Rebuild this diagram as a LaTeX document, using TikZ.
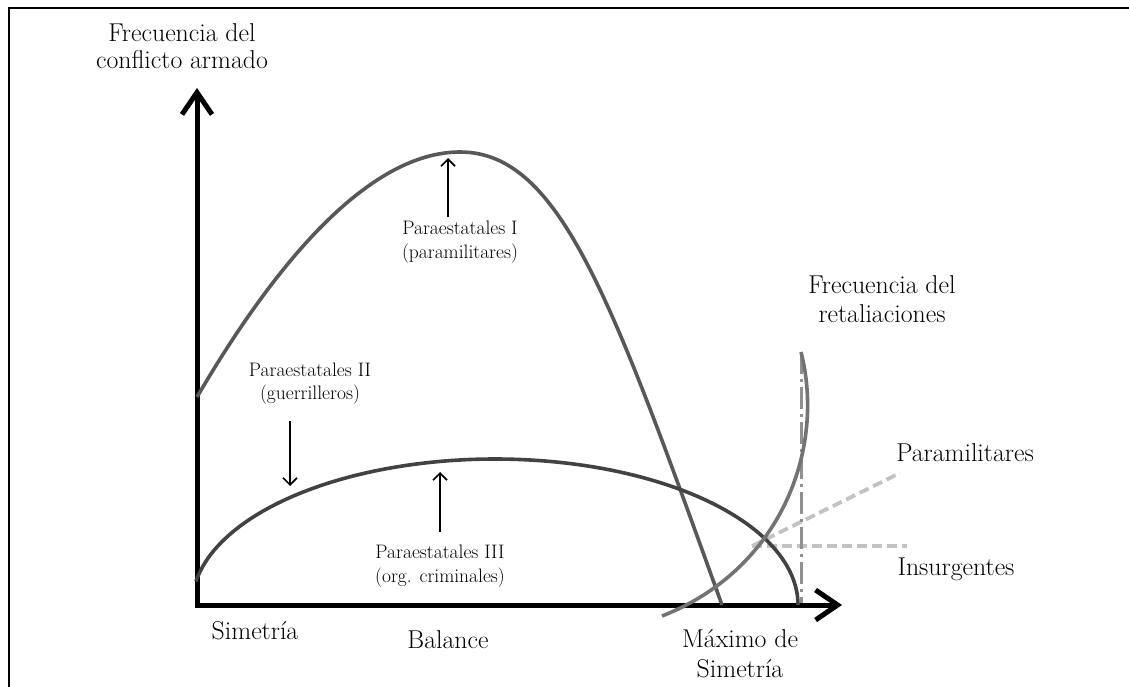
\documentclass[tikz,border=0pt]{standalone}
\usepackage{fontspec}
\usetikzlibrary{arrows.meta}
\definecolor{curveA}{HTML}{585858}
\definecolor{curveB}{HTML}{424242}
\definecolor{curveC}{HTML}{737373}
\definecolor{dashdotc}{HTML}{909090}
\definecolor{dashc}{HTML}{C2C2C2}
\begin{document}
\begin{tikzpicture}[x=1pt,y=-1pt,
  big/.style={font=\fontsize{25.8}{28}\selectfont, inner sep=0pt, align=center},
  small/.style={font=\fontsize{19.5}{23.5}\selectfont, inner sep=0pt, align=center},
  axisline/.style={line width=5pt, line join=miter, {Straight Barb[length=22pt,width=30pt]}-{Straight Barb[length=22pt,width=30pt]}},
  pointer/.style={line width=1.7pt, -{Straight Barb[length=7pt,width=14pt]}},
  curve/.style={line width=3.6pt},
  dashline/.style={line width=3.8pt, dashc, dash pattern=on 10pt off 5pt},
  dashdotline/.style={line width=3pt, dashdotc, dash pattern=on 22pt off 5pt on 3pt off 5pt}
]
\useasboundingbox (0,0) rectangle (1129,687);
% frame
\draw[line width=1.6pt] (9,8) rectangle (1145,705);

% coordinates
\coordinate (ytip) at (197,88);
\coordinate (origin) at (197,605);
\coordinate (xtip) at (842,605);
\coordinate (meet) at (752,546);
\coordinate (paraend) at (900,473);
\coordinate (insend) at (907,546);
\coordinate (ddtop) at (801,352);
\coordinate (ddbot) at (801,605);

% dashed lines
\draw[dashline] (meet) -- (paraend);
\draw[dashline] (meet) -- (insend);
\draw[dashdotline] (ddtop) -- (ddbot);

% axes
\draw[axisline] (ytip) -- (origin) -- (xtip);

% curve I
\draw[curve, curveA] (197,397) .. controls (290,238) and (380,152) .. (460,152)
   .. controls (560,152) and (612,300) .. (722,605);
% curve II (half ellipse)
\draw[curve, curveB] plot[domain=170.7:0, samples=90, smooth] ({495+303*cos(\x)}, {605-146*sin(\x)});
% retaliation curve
\draw[curve, curveC] (662,616) .. controls (780,570) and (826,450) .. (801,352);

% labels
\node[big, font=\fontsize{25.8}{25}\selectfont] (ylab) at (182,49.5) {\strut Frecuencia del\\\strut conflicto armado};
\node[big, font=\fontsize{25.8}{29}\selectfont] (rlab) at (882,301.7) {\strut Frecuencia del\\\strut retaliaciones};
\node[big, font=\fontsize{25.8}{30}\selectfont] (maxlab) at (740,656) {\strut Máximo de\\\strut Simetría};
\node[big] (simlab) at (255,633.4) {\strut Simetría};
\node[big] (ballab) at (448,642.4) {\strut Balance};
\node[big] (paralab) at (965,455.4) {\strut Paramilitares};
\node[big] (inslab) at (956,569.4) {\strut Insurgentes};

\node[small] (p1) at (460,241.8) {\strut Paraestatales I\\\strut (paramilitares)};
\node[small] (p2) at (310,383.5) {\strut Paraestatales II\\\strut (guerrilleros)};
\node[small] (p3) at (440,565.7) {\strut Paraestatales III\\\strut (org. criminales)};

% pointer arrows
\coordinate (a1s) at (448,217);
\coordinate (a1e) at (448,158);
\coordinate (a2s) at (290,421);
\coordinate (a2e) at (290,486);
\coordinate (a3s) at (440,532);
\coordinate (a3e) at (440,472);
\draw[pointer] (a1s) -- (a1e);
\draw[pointer] (a2s) -- (a2e);
\draw[pointer] (a3s) -- (a3e);
\end{tikzpicture}
\end{document}
